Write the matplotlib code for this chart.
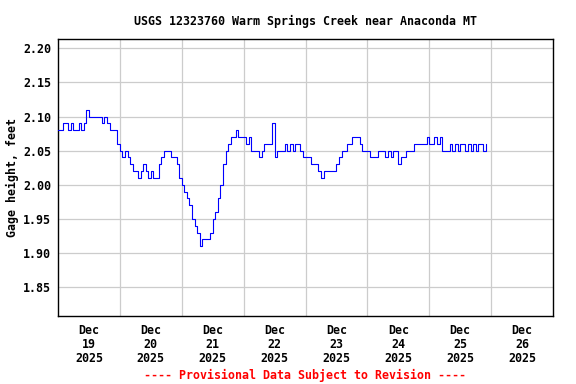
import numpy as np
import pandas as pd
import matplotlib
matplotlib.use("Agg")
import matplotlib.pyplot as plt

OUT = "out.png"
START = "2025-12-19 00:00"

# hourly gage height readings (feet), one list per day
day19 = [2.08, 2.08, 2.09, 2.09, 2.08, 2.09, 2.08, 2.08, 2.09, 2.08, 2.09, 2.11,
         2.10, 2.10, 2.10, 2.10, 2.10, 2.09, 2.10, 2.09, 2.08, 2.08, 2.08, 2.06]
day20 = [2.05, 2.04, 2.05, 2.04, 2.03, 2.02, 2.02, 2.01, 2.02, 2.03, 2.02, 2.01,
         2.02, 2.01, 2.01, 2.03, 2.04, 2.05, 2.05, 2.05, 2.04, 2.04, 2.03, 2.01]
day21 = [2.00, 1.99, 1.98, 1.97, 1.95, 1.94, 1.93, 1.91, 1.92, 1.92, 1.92, 1.93,
         1.95, 1.96, 1.98, 2.00, 2.03, 2.05, 2.06, 2.07, 2.07, 2.08, 2.07, 2.07]
day22 = [2.07, 2.06, 2.07, 2.05, 2.05, 2.05, 2.04, 2.05, 2.06, 2.06, 2.06, 2.09,
         2.04, 2.05, 2.05, 2.05, 2.06, 2.05, 2.06, 2.05, 2.06, 2.06, 2.05, 2.04]
day23 = [2.04, 2.04, 2.03, 2.03, 2.03, 2.02, 2.01, 2.02, 2.02, 2.02, 2.02, 2.02,
         2.03, 2.04, 2.05, 2.05, 2.06, 2.06, 2.07, 2.07, 2.07, 2.06, 2.05, 2.05]
day24 = [2.05, 2.04, 2.04, 2.04, 2.05, 2.05, 2.05, 2.04, 2.05, 2.04, 2.05, 2.05,
         2.03, 2.04, 2.04, 2.05, 2.05, 2.05, 2.06, 2.06, 2.06, 2.06, 2.06, 2.07]
day25 = [2.06, 2.06, 2.07, 2.06, 2.07, 2.05, 2.05, 2.05, 2.06, 2.05, 2.06, 2.05,
         2.06, 2.06, 2.05, 2.06, 2.05, 2.06, 2.05, 2.06, 2.06, 2.05, 2.06]

gage = day19 + day20 + day21 + day22 + day23 + day24 + day25
times = pd.date_range(START, periods=len(gage), freq="h")

y_ticks = [1.85, 1.90, 1.95, 2.00, 2.05, 2.10, 2.15, 2.20]
day_labels = ["Dec\n19\n2025", "Dec\n20\n2025", "Dec\n21\n2025", "Dec\n22\n2025",
              "Dec\n23\n2025", "Dec\n24\n2025", "Dec\n25\n2025", "Dec\n26\n2025"]

FONT = "DejaVu Sans Mono"
FS = 8.4

fig = plt.figure(figsize=(5.76, 3.84), dpi=100)
ax = fig.add_axes([58 / 576, 1 - 316 / 384, (553 - 58) / 576, (316 - 39.3) / 384])

ax.plot(times, gage, color="#0000ff", lw=0.8, drawstyle="steps-post", zorder=3)

days = pd.date_range(START, periods=9, freq="D")
noons = days[:8] + pd.Timedelta(hours=12)
ax.set_xlim(days[0], days[-1])
ax.set_ylim(1.808, 2.213)

ax.set_xticks(noons)
ax.set_xticklabels(day_labels, fontfamily=FONT, fontweight="bold", fontsize=FS,
                   linespacing=1.1)
ax.set_yticks(y_ticks)
ax.set_yticklabels([f"{v:.2f}" for v in y_ticks], fontfamily=FONT,
                   fontweight="bold", fontsize=FS)
ax.tick_params(axis="both", which="both", length=0)
ax.tick_params(axis="x", pad=6)
ax.tick_params(axis="y", pad=5)

# grid: horizontal at y ticks, vertical at midnight boundaries
for d in days[1:-1]:
    ax.axvline(d, color="#cccccc", lw=0.9, zorder=1)
for v in y_ticks:
    ax.axhline(v, color="#cccccc", lw=0.9, zorder=1)

for s in ax.spines.values():
    s.set_linewidth(1.0)
    s.set_color("black")

ax.set_ylabel("Gage height, feet", fontfamily=FONT, fontweight="bold",
              fontsize=FS, labelpad=3)
ax.set_title("USGS 12323760 Warm Springs Creek near Anaconda MT",
             fontfamily=FONT, fontweight="bold", fontsize=FS, pad=10)

fig.text((58 + 553) / 2 / 576, 1 - 375 / 384,
         "---- Provisional Data Subject to Revision ----",
         color="red", ha="center", va="center",
         fontfamily=FONT, fontweight="bold", fontsize=FS)

fig.savefig(OUT, dpi=100)
